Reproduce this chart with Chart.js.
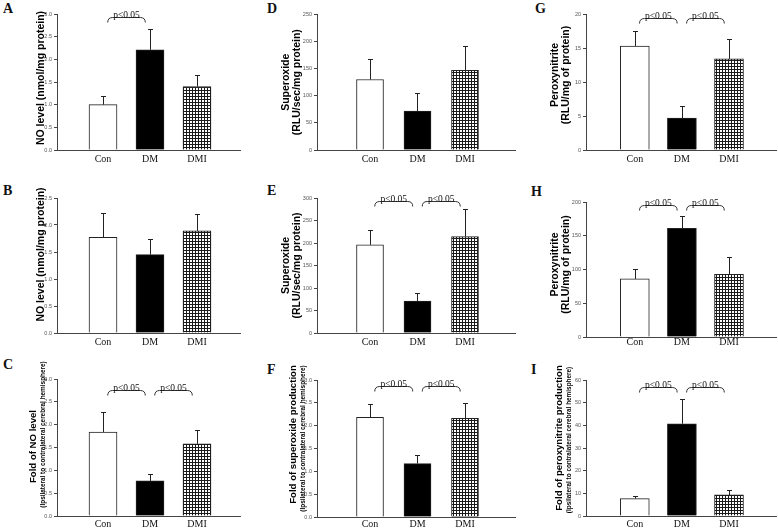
<!DOCTYPE html>
<html>
<head>
<meta charset="utf-8">
<script src="https://cdn.jsdelivr.net/npm/chart.js@4.4.1/dist/chart.umd.min.js"></script>
<style>
  html, body { margin: 0; padding: 0; background: #fff; }
  #fig { position: relative; width: 778px; height: 530px; overflow: hidden; }
  #fig canvas { position: absolute; }
  .letter { position: absolute; font: bold 14px "Liberation Serif", "Times New Roman", serif; line-height: 14px; color: #111; }
</style>
</head>
<body>
<div id="fig"></div>
<script>
// groups on every panel
const categories = ["Con", "DM", "DMI"];
const pLabel = "p<0.05";

// NO level (nmol/mg protein)
const noA = [1.00, 2.21, 1.40];
const noAErr = [0.19, 0.47, 0.25];
const noB = [1.77, 1.45, 1.89];
const noBErr = [0.46, 0.30, 0.31];
// fold of NO level
const foldNoC = [1.84, 0.77, 1.58];
const foldNoCErr = [0.44, 0.16, 0.30];
// superoxide (RLU/sec/mg protein)
const supD = [130, 72, 147];
const supDErr = [37, 33, 45];
const supE = [196, 71, 214];
const supEErr = [33, 18, 61];
// fold of superoxide production
const foldSupF = [2.18, 1.17, 2.16];
const foldSupFErr = [0.30, 0.18, 0.33];
// peroxynitrite (RLU/mg of protein)
const peroxG = [15.3, 4.7, 13.4];
const peroxGErr = [2.2, 1.8, 2.9];
const peroxH = [86, 161, 93];
const peroxHErr = [15, 19, 25];
// fold of peroxynitrite production
const foldPeroxI = [7.7, 40.7, 9.3];
const foldPeroxIErr = [1.3, 10.8, 2.3];

// significance brackets (category pairs) and the value they sit at
const twoPairs = [[0, 1], [1, 2]];
const sigA = [[0, 1]];

const subTitle = "(Ipsilateral to contralateral cerebral hemisphere)";
const big = "bold 10.5px 'Liberation Sans', Arial, sans-serif";
const mid = "bold 9.6px 'Liberation Sans', Arial, sans-serif";
const small = "bold 6.4px 'Liberation Sans', Arial, sans-serif";

// column / row geometry of the 3x3 figure
const cols = [
  { left: 0,   w: 258, areaL: 57,  areaR: 240, xMin: -0.979, xMax: 2.915, barW: 28 },
  { left: 258, w: 260, areaL: 317, areaR: 515, xMin: -1.116, xMax: 3.053, barW: 27 },
  { left: 518, w: 260, areaL: 586, areaR: 776, xMin: -1.036, xMax: 2.998, barW: 29 }
];
const rows = [
  { top: 0,   h: 172 },
  { top: 172, h: 176 },
  { top: 348, h: 182 }
];

const panels = [
  { letter: "A", col: 0, row: 0, at: [3, 4], t: 14, b: 150, mean: noA, err: noAErr, yMax: 3, step: 0.5,
    sig: sigA, sigAt: 2.93, labelPad: 3,
    title: [{ text: "NO level (nmol/mg protein)", font: big, dx: -16, dy: -4 }] },
  { letter: "B", col: 0, row: 1, at: [3, 186], t: 198, b: 333, mean: noB, err: noBErr, yMax: 2.5, step: 0.5,
    sig: [], sigAt: 0, labelPad: 3,
    title: [{ text: "NO level (nmol/mg protein)", font: big, dx: -16, dy: -11 }] },
  { letter: "C", col: 0, row: 2, at: [3, 360], t: 379, b: 516, mean: foldNoC, err: foldNoCErr, yMax: 3, step: 0.5,
    sig: twoPairs, sigAt: 2.76, labelPad: 2,
    title: [{ text: "Fold of NO level", font: mid, dx: -24, dy: -1 },
            { text: subTitle, font: small, dx: -14, dy: -13 }] },
  { letter: "D", col: 1, row: 0, at: [267, 4], t: 14.5, b: 150, mean: supD, err: supDErr, yMax: 250, step: 50,
    sig: [], sigAt: 0, labelPad: 3,
    title: [{ text: "Superoxide", font: big, dx: -31, dy: 0 },
            { text: "(RLU/sec/mg protein)", font: big, dx: -20, dy: 0 }] },
  { letter: "E", col: 1, row: 1, at: [267, 186], t: 198, b: 333, mean: supE, err: supEErr, yMax: 300, step: 50,
    sig: twoPairs, sigAt: 292.7, labelPad: 3,
    title: [{ text: "Superoxide", font: big, dx: -31, dy: 0 },
            { text: "(RLU/sec/mg protein)", font: big, dx: -20, dy: 0 }] },
  { letter: "F", col: 1, row: 2, at: [267, 365], t: 380, b: 517, mean: foldSupF, err: foldSupFErr, yMax: 3, step: 0.5,
    sig: twoPairs, sigAt: 2.87, labelPad: 1,
    title: [{ text: "Fold of superoxide production", font: mid, dx: -24, dy: -14 },
            { text: subTitle, font: small, dx: -14, dy: -10 }] },
  { letter: "G", col: 2, row: 0, at: [535, 4], t: 14, b: 150, mean: peroxG, err: peroxGErr, yMax: 20, step: 5,
    sig: twoPairs, sigAt: 19.4, labelPad: 3,
    title: [{ text: "Peroxynitrite", font: big, dx: -30.5, dy: -7 },
            { text: "(RLU/mg of protein)", font: big, dx: -20, dy: -7 }] },
  { letter: "H", col: 2, row: 1, at: [531, 187], t: 202, b: 337, mean: peroxH, err: peroxHErr, yMax: 200, step: 50,
    sig: twoPairs, sigAt: 196, labelPad: -1,
    title: [{ text: "Peroxynitrite", font: big, dx: -30.5, dy: -5 },
            { text: "(RLU/mg of protein)", font: big, dx: -20, dy: -5 }] },
  { letter: "I", col: 2, row: 2, at: [531, 365], t: 380, b: 516, mean: foldPeroxI, err: foldPeroxIErr, yMax: 60, step: 10,
    sig: twoPairs, sigAt: 56.8, labelPad: 2,
    title: [{ text: "Fold of peroxynitrite production", font: mid, dx: -26.5, dy: -10 },
            { text: subTitle, font: small, dx: -16.5, dy: -8 }] }
];

function makeHatch() {
  const c = document.createElement("canvas");
  c.width = 3; c.height = 3;
  const g = c.getContext("2d");
  g.fillStyle = "#fff"; g.fillRect(0, 0, 3, 3);
  g.fillStyle = "#1a1a1a"; g.fillRect(0, 0, 3, 1); g.fillRect(0, 0, 1, 3);
  return g.createPattern(c, "repeat");
}
const hatch = makeHatch();

// error bars, brackets and the rotated y titles
function makeAnnot(p) {
  return {
    id: "annot" + p.letter,
    afterDatasetsDraw(chart) {
      const ctx = chart.ctx;
      const xs = chart.scales.x, ys = chart.scales.y;
      const area = chart.chartArea;
      ctx.save();
      ctx.strokeStyle = "#222";
      ctx.lineWidth = 1;
      chart.getDatasetMeta(0).data.forEach((bar, i) => {
        const cx = Math.round(bar.x) + 0.5;
        const base = ys.getPixelForValue(p.mean[i]);
        const top = Math.round(ys.getPixelForValue(p.mean[i] + p.err[i])) + 0.5;
        ctx.beginPath();
        ctx.moveTo(cx, base); ctx.lineTo(cx, top);
        ctx.moveTo(cx - 2.5, top); ctx.lineTo(cx + 2.5, top);
        ctx.stroke();
      });

      ctx.strokeStyle = "#333";
      ctx.fillStyle = "#111";
      ctx.font = "9.5px 'Liberation Serif', 'Times New Roman', serif";
      ctx.textAlign = "center";
      ctx.textBaseline = "alphabetic";
      p.sig.forEach(([a, b]) => {
        const x1 = xs.getPixelForValue(a + 0.1);
        const x2 = xs.getPixelForValue(b - 0.1);
        const y = Math.round(ys.getPixelForValue(p.sigAt)) + 0.5;
        ctx.beginPath();
        ctx.moveTo(x1, y + 5);
        ctx.quadraticCurveTo(x1, y, x1 + 5, y);
        ctx.lineTo(x2 - 5, y);
        ctx.quadraticCurveTo(x2, y, x2, y + 5);
        ctx.stroke();
        ctx.fillText(pLabel, (x1 + x2) / 2, y);
      });

      const midY = (area.top + area.bottom) / 2;
      ctx.textBaseline = "middle";
      ctx.fillStyle = "#000";
      p.title.forEach(line => {
        ctx.save();
        ctx.translate(area.left + line.dx, midY + line.dy);
        ctx.rotate(-Math.PI / 2);
        ctx.font = line.font;
        ctx.fillText(line.text, 0, 0);
        ctx.restore();
      });
      ctx.restore();
    }
  };
}

const fig = document.getElementById("fig");

panels.forEach(p => {
  const col = cols[p.col], row = rows[p.row];

  const letter = document.createElement("div");
  letter.className = "letter";
  letter.textContent = p.letter;
  letter.style.left = p.at[0] + "px";
  letter.style.top = (p.at[1] - 2.5) + "px";
  fig.appendChild(letter);

  const canvas = document.createElement("canvas");
  canvas.width = col.w; canvas.height = row.h;
  canvas.style.left = col.left + "px";
  canvas.style.top = row.top + "px";
  fig.appendChild(canvas);

  const yWidth = col.areaL - col.left;
  const xHeight = row.top + row.h - p.b;
  const fmt = v => (p.step < 1 ? v.toFixed(1) : String(v));

  new Chart(canvas.getContext("2d"), {
    type: "bar",
    data: {
      datasets: [{
        data: p.mean.map((v, i) => ({ x: i, y: v })),
        backgroundColor: ["#ffffff", "#000000", hatch],
        borderColor: "#222",
        borderWidth: 1,
        barThickness: col.barW
      }]
    },
    options: {
      responsive: false,
      animation: false,
      devicePixelRatio: 1,
      layout: { padding: { top: p.t - row.top, right: col.left + col.w - col.areaR, left: 0, bottom: 0 } },
      plugins: { legend: { display: false }, tooltip: { enabled: false } },
      scales: {
        x: {
          type: "linear",
          offset: false,
          min: col.xMin,
          max: col.xMax,
          afterBuildTicks: s => { s.ticks = categories.map((c, i) => ({ value: i })); },
          afterFit: s => { s.height = xHeight; },
          ticks: {
            callback: v => categories[v],
            autoSkip: false,
            maxRotation: 0,
            padding: p.labelPad,
            color: "#111",
            font: { family: "'Liberation Serif', 'Times New Roman', serif", size: 10 }
          },
          grid: { display: false, drawTicks: false, tickLength: 0 },
          border: { display: true, color: "#444", width: 1 }
        },
        y: {
          type: "linear",
          min: 0,
          max: p.yMax,
          afterFit: s => { s.width = yWidth; },
          ticks: {
            stepSize: p.step,
            callback: v => fmt(v),
            padding: 2,
            color: "#555",
            font: { family: "'Liberation Sans', Arial, sans-serif", size: 5.5 }
          },
          grid: { display: true, drawOnChartArea: false, drawTicks: true, tickLength: 3, color: "#444" },
          border: { display: true, color: "#444", width: 1 }
        }
      }
    },
    plugins: [makeAnnot(p)]
  });
});
</script>
</body>
</html>
